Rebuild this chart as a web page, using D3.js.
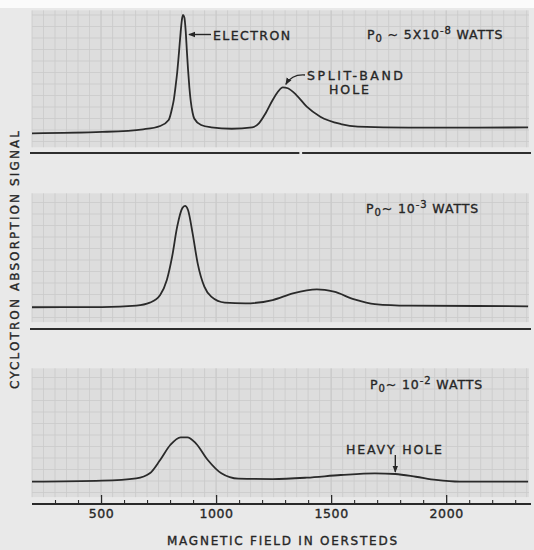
<!DOCTYPE html>
<html>
<head>
<meta charset="utf-8">
<script src="https://cdn.jsdelivr.net/npm/d3@7"></script>
<style>
  body { margin: 0; background: #ffffff; }
  svg { display: block; }
  text { font-family: "DejaVu Sans", sans-serif; fill: #262626; stroke: #262626; stroke-width: 0.35px; }
</style>
</head>
<body>
<svg id="chart" width="534" height="550"></svg>
<script>
// ---------------- data ----------------
// Magnetic field axis (oersteds)
const fieldTicks = [500, 1000, 1500, 2000];
const fieldTickLabels = ["500", "1000", "1500", "2000"];
const fieldMinorTicks = [300, 400, 600, 700, 800, 900, 1100, 1200, 1300, 1400,
                         1600, 1700, 1800, 1900, 2100, 2200, 2300];

// Trace 1: P0 ~ 5x10^-8 W (signal in chart divisions above the reference line)
const trace1Field  = [200, 505, 683, 757, 794, 810, 816, 824, 831, 839, 846, 851, 856, 862, 868, 873,
                      878, 884, 890, 898, 905, 935, 979, 1068, 1157, 1186, 1216, 1246, 1268, 1290,
                      1312, 1349, 1394, 1453, 1542, 1616, 1838, 2134, 2356];
const trace1Signal = [1.71, 1.83, 2.06, 2.35, 2.87, 4.0, 4.6, 5.8, 7.0, 8.8, 10.5, 11.5, 12.0, 11.8, 10.6, 8.9,
                      7.3, 5.7, 4.5, 3.5, 3.0, 2.43, 2.23, 2.11, 2.23, 2.58, 3.48, 4.61, 5.30, 5.71,
                      5.63, 5.04, 4.03, 3.16, 2.52, 2.29, 2.20, 2.20, 2.23];

// Trace 2: P0 ~ 10^-3 W
const trace2Field  = [200, 505, 653, 712, 757, 786, 809, 831, 853, 865, 878, 898, 920, 949, 979,
                      1038, 1127, 1246, 1334, 1438, 1512, 1601, 1690, 1838, 2134, 2356];
const trace2Signal = [1.89, 1.91, 2.03, 2.29, 2.96, 4.26, 6.29, 8.90, 10.50, 10.70, 10.35, 8.32, 5.71, 3.68, 2.81,
                      2.29, 2.23, 2.52, 3.10, 3.45, 3.24, 2.58, 2.17, 2.03, 2.00, 1.97];

// Trace 3: P0 ~ 10^-2 W
const trace3Field  = [200, 505, 653, 712, 757, 801, 846, 875, 912, 964, 1023, 1097, 1246, 1394,
                      1542, 1690, 1779, 1868, 1956, 2060, 2356];
const trace3Signal = [1.94, 2.03, 2.23, 2.67, 3.83, 5.13, 5.80, 5.80, 5.28, 3.83, 2.67, 2.20, 2.17, 2.29,
                      2.52, 2.67, 2.61, 2.37, 2.09, 1.94, 1.94];

// Power labels for each trace
const powerPrefix   = ["P", "P", "P"];
const powerSub      = ["0", "0", "0"];
const powerTilde    = ["\u00A0~\u00A0", "~\u00A0", "~\u00A0"];
const powerMantissa = ["5X10", "10", "10"];
const powerExponent = ["-8", "-3", "-2"];
const powerUnit     = ["\u00A0WATTS", "\u00A0WATTS", "\u00A0WATTS"];

// ---------------- layout ----------------
const W = 534, H = 550;
const svg = d3.select("#chart");
const divPx = 11.5;               // one chart-paper division in pixels

const x = d3.scaleLinear().domain([200, 2360]).range([32, 529]);

const panels = [
  { refY: 153, paper: [0.5, 12.4], field: trace1Field, signal: trace1Signal },
  { refY: 329, paper: [0.6, 11.8], field: trace2Field, signal: trace2Signal },
  { refY: 504, paper: [0.6, 11.8], field: trace3Field, signal: trace3Signal }
];
panels.forEach(p => {
  p.y = d3.scaleLinear().domain([0, 1]).range([p.refY, p.refY - divPx]);
});

// page background
svg.append("rect").attr("x", 0).attr("y", 0).attr("width", W).attr("height", H).attr("fill", "#e9e9e9");
svg.append("rect").attr("x", 0).attr("y", 0).attr("width", W).attr("height", 8).attr("fill", "#fbfbfb");

// chart paper with grid
const gridField = d3.range(200, 2361, 50);
panels.forEach(p => {
  const g = svg.append("g");
  const y0 = p.y(p.paper[0]), y1 = p.y(p.paper[1]);
  g.append("rect")
    .attr("x", x(200)).attr("y", y1)
    .attr("width", x(2360) - x(200)).attr("height", y0 - y1)
    .attr("fill", "#dddddd");
  g.selectAll("line.v").data(gridField).join("line")
    .attr("x1", d => x(d)).attr("x2", d => x(d))
    .attr("y1", y1).attr("y2", y0)
    .attr("stroke", d => d % 500 === 0 ? "#bcbcbc" : "#cacaca")
    .attr("stroke-width", 0.8);
  const rows = d3.range(Math.ceil(p.paper[0]), Math.floor(p.paper[1]) + 1);
  g.selectAll("line.h").data(rows).join("line")
    .attr("x1", x(200)).attr("x2", x(2360))
    .attr("y1", d => p.y(d)).attr("y2", d => p.y(d))
    .attr("stroke", "#cacaca")
    .attr("stroke-width", 0.8);
});

// reference lines under panels 1 and 2 (the first one has a small break)
const refBreaks = [[1362, 1374], null];
panels.slice(0, 2).forEach((p, i) => {
  const segs = refBreaks[i]
    ? [[30, x(refBreaks[i][0])], [x(refBreaks[i][1]), 531]]
    : [[30, 531]];
  segs.forEach(s => {
    svg.append("line")
      .attr("x1", s[0]).attr("x2", s[1])
      .attr("y1", p.y(0)).attr("y2", p.y(0))
      .attr("stroke", "#2e2e2e").attr("stroke-width", 2);
  });
});

// absorption traces
panels.forEach(p => {
  const pts = p.field.map((f, i) => [f, p.signal[i]]);
  const line = d3.line()
    .x(d => x(d[0]))
    .y(d => p.y(d[1]))
    .curve(d3.curveMonotoneX);
  svg.append("path")
    .attr("d", line(pts))
    .attr("fill", "none")
    .attr("stroke", "#2a2a2a")
    .attr("stroke-width", 1.8);
});

// field axis at the bottom panel
const axisY = panels[2].refY;
const axisG = svg.append("g").attr("transform", `translate(0,${axisY})`);
axisG.call(
  d3.axisBottom(x)
    .tickValues(fieldTicks)
    .tickFormat((d, i) => fieldTickLabels[i])
    .tickSizeInner(-9).tickSizeOuter(0).tickPadding(5)
);
axisG.select(".domain").remove();
axisG.selectAll(".tick line").attr("stroke", "#2a2a2a").attr("stroke-width", 1.3);
axisG.selectAll(".tick text")
  .attr("font-size", 12.5).attr("fill", "#262626")
  .style("letter-spacing", "0.6px")
  .attr("font-family", "DejaVu Sans, sans-serif");
const minorG = svg.append("g").attr("transform", `translate(0,${axisY})`);
minorG.call(d3.axisBottom(x).tickValues(fieldMinorTicks).tickFormat("").tickSizeInner(-4).tickSizeOuter(0));
minorG.select(".domain").remove();
minorG.selectAll(".tick line").attr("stroke", "#2a2a2a").attr("stroke-width", 1.1);
svg.append("line")
  .attr("x1", 32).attr("x2", 531)
  .attr("y1", axisY).attr("y2", axisY)
  .attr("stroke", "#2a2a2a").attr("stroke-width", 2);

// axis titles
svg.append("text")
  .attr("x", 282).attr("y", 544.5)
  .attr("text-anchor", "middle")
  .attr("font-size", 12)
  .attr("textLength", 230).attr("lengthAdjust", "spacing")
  .text("MAGNETIC FIELD IN OERSTEDS");
svg.append("text")
  .attr("transform", "translate(19,260) rotate(-90)")
  .attr("text-anchor", "middle")
  .attr("font-size", 12)
  .attr("textLength", 258).attr("lengthAdjust", "spacing")
  .text("CYCLOTRON ABSORPTION SIGNAL");

// power labels
const powerPos = [[367, 39], [366, 213], [370, 389]];
panels.forEach((p, i) => {
  const t = svg.append("text")
    .attr("x", powerPos[i][0]).attr("y", powerPos[i][1])
    .attr("font-size", 12.5)
    .style("letter-spacing", "0.9px");
  t.append("tspan").text(powerPrefix[i]);
  t.append("tspan").attr("font-size", 10).attr("dy", 3).text(powerSub[i]);
  t.append("tspan").attr("dy", -3).text(powerTilde[i] + powerMantissa[i]);
  t.append("tspan").attr("font-size", 10).attr("dy", -5).text(powerExponent[i]);
  t.append("tspan").attr("dy", 5).text(powerUnit[i]);
});

// arrow marker
const defs = svg.append("defs");
defs.append("marker")
  .attr("id", "arrowHead")
  .attr("viewBox", "0 0 10 10")
  .attr("refX", 9).attr("refY", 5)
  .attr("markerWidth", 7).attr("markerHeight", 7)
  .attr("markerUnits", "userSpaceOnUse")
  .attr("orient", "auto")
  .append("path").attr("d", "M0,1 L10,5 L0,9 Z").attr("fill", "#262626");

// ELECTRON annotation
const elecPeak = x(856);
svg.append("line")
  .attr("x1", 211).attr("y1", 34.5).attr("x2", elecPeak + 6).attr("y2", 34.5)
  .attr("stroke", "#262626").attr("stroke-width", 1.4)
  .attr("marker-end", "url(#arrowHead)");
svg.append("text")
  .attr("x", 213).attr("y", 39.5)
  .attr("font-size", 12.5)
  .attr("textLength", 77).attr("lengthAdjust", "spacing")
  .text("ELECTRON");

// SPLIT-BAND HOLE annotation
const sbX = x(1290), sbY = panels[0].y(5.71);
svg.append("path")
  .attr("d", `M305,75 Q292,74 ${sbX + 3},${sbY - 3}`)
  .attr("fill", "none").attr("stroke", "#262626").attr("stroke-width", 1.3)
  .attr("marker-end", "url(#arrowHead)");
svg.append("text")
  .attr("x", 307).attr("y", 79.5)
  .attr("font-size", 12.5)
  .attr("textLength", 96).attr("lengthAdjust", "spacing")
  .text("SPLIT-BAND");
svg.append("text")
  .attr("x", 329).attr("y", 93.5)
  .attr("font-size", 12.5)
  .attr("textLength", 40).attr("lengthAdjust", "spacing")
  .text("HOLE");

// HEAVY HOLE annotation
const hhX = x(1779), hhY = panels[2].y(2.61);
svg.append("line")
  .attr("x1", hhX).attr("y1", 455).attr("x2", hhX).attr("y2", hhY - 2)
  .attr("stroke", "#262626").attr("stroke-width", 1.4)
  .attr("marker-end", "url(#arrowHead)");
svg.append("text")
  .attr("x", 346).attr("y", 453.5)
  .attr("font-size", 12.5)
  .attr("textLength", 96).attr("lengthAdjust", "spacing")
  .text("HEAVY HOLE");
</script>
</body>
</html>
